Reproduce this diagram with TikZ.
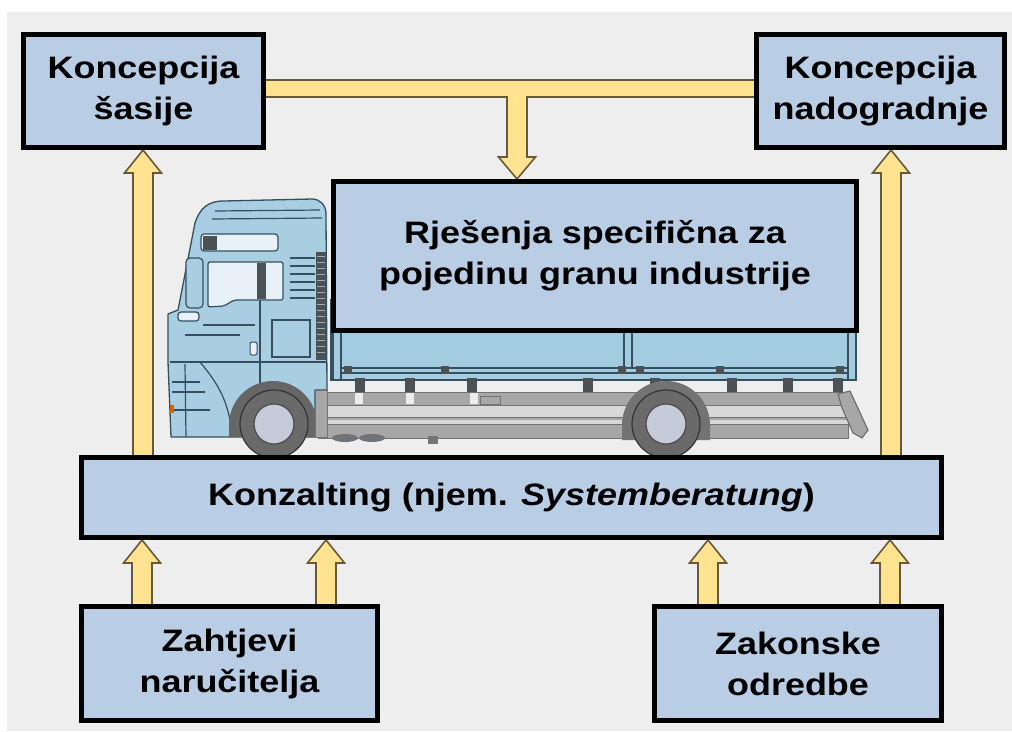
\documentclass[tikz,border=0pt]{standalone}
\usepackage{fontspec}
\setmainfont{Liberation Sans}[FakeStretch=1.16]
\usetikzlibrary{calc}
\pgfdeclarelayer{bg}
\pgfsetlayers{bg,main}
\definecolor{boxfill}{HTML}{B9CDE5}
\definecolor{arrfill}{HTML}{FFE390}
\definecolor{arrline}{HTML}{66593A}
\definecolor{bggray}{HTML}{EEEEEE}
\definecolor{cabfill}{HTML}{A9CDE1}
\definecolor{bodyfill}{HTML}{A4CCE0}
\definecolor{cabline}{HTML}{34505F}
\definecolor{cabdark}{HTML}{4C5156}
\definecolor{chassisc}{HTML}{A7A7A7}
\definecolor{chassislight}{HTML}{D8D8D8}
\definecolor{tyre}{HTML}{6A6A6A}
\definecolor{hub}{HTML}{C6CBD9}
\definecolor{winfill}{HTML}{E8F1F7}
\begin{document}
\begin{tikzpicture}[x=1pt,y=-1pt,
  box/.style={draw=black,line width=5pt,fill=boxfill,align=center,inner sep=0pt,
    font=\fontsize{31}{41}\selectfont\bfseries},
  arrowst/.style={fill=arrfill,draw=arrline,line width=1.6pt,line join=miter},
  fatup/.style={to path={let \p1=(\tikztostart),\p2=(\tikztotarget) in
     (\x1-10pt,\y1) -- (\x1-10pt,\y2-23pt) -- (\x1-18.5pt,\y2-23pt) -- (\x1,\y2)
     -- (\x1+18.5pt,\y2-23pt) -- (\x1+10pt,\y2-23pt) -- (\x1+10pt,\y1) -- cycle}},
  tline/.style={draw=cabline,line width=1.2pt},
  tfill/.style={fill=cabfill,draw=cabline,line width=1.3pt,line join=round},
]
\useasboundingbox (0,0) rectangle (1012,731);

% boxes
\node[box,minimum width=240,minimum height=113] (b1) at (143.5,91) {Koncepcija\\šasije};
\node[box,minimum width=248,minimum height=113] (b2) at (880.5,91) {Koncepcija\\nadogradnje};
\node[box,minimum width=523,minimum height=149] (rj) at (595,256) {Rješenja specifična za\\pojedinu granu industrije};
\node[box,minimum width=860,minimum height=80] (konz) at (511.5,497.5) {Konzalting (njem. {\itshape Systemberatung})};
\node[box,minimum width=296,minimum height=114] (zah) at (229.5,663.5) {Zahtjevi\\naručitelja};
\node[box,minimum width=287,minimum height=114] (zak) at (798,663.5) {Zakonske\\odredbe};

\begin{pgfonlayer}{bg}
\fill[white] (0,0) rectangle (1012,731);
\fill[bggray] (7,12) rectangle (1012,731);

% ---------- truck ----------
% cargo body
\filldraw[fill=bodyfill,draw=cabline,line width=1.2pt] (331,300) rectangle (856,380);
\draw[tline] (331,368) -- (856,368);
\draw[tline] (331,373) -- (856,373);
\filldraw[fill=bodyfill,draw=cabline,line width=1.2pt] (333,300) rectangle (341,380);
\filldraw[fill=bodyfill,draw=cabline,line width=1.2pt] (848,300) rectangle (856,380);
\draw[tline] (624,300) -- (624,368);
\draw[tline] (632,300) -- (632,368);
\foreach \bx in {360,410,472,588,655,732,788,838}
  \fill[cabdark] (\bx-5,378) rectangle (\bx+5,392);
\foreach \bx in {348,445,622,640,720,840}
  \fill[cabdark] (\bx-4,366) rectangle (\bx+4,374);
% chassis
\fill[chassisc] (318,392) rectangle (848,438);
\fill[chassislight] (318,405) rectangle (848,417);
\fill[chassislight] (318,420) rectangle (848,424);
\draw[black!55,line width=0.8pt] (318,392) rectangle (848,438);
\draw[black!55,line width=0.8pt] (318,405) -- (848,405) (318,417) -- (848,417) (318,424) -- (848,424);
\foreach \bx in {355,406,470}
  \fill[white!85!gray] (\bx,393) rectangle (\bx+8,404);
\draw[black!55,line width=0.8pt,fill=chassisc] (480,396) rectangle (500,404);
\fill[cabdark!80] (345,438) ellipse[x radius=13,y radius=4];
\fill[cabdark!80] (372,438) ellipse[x radius=13,y radius=4];
\fill[chassisc!70!black] (428,436) rectangle (438,444);
% rear underride
\filldraw[fill=chassisc,draw=black!60,line width=1pt] (838,394) -- (850,391) -- (868,430) -- (862,438) -- (853,433) -- (842,408) -- cycle;
% rear arch and wheel
\fill[black!55] (622,440) -- (622,425) arc[start angle=180,end angle=360,radius=44] -- (710,440) -- cycle;
\filldraw[fill=tyre,draw=black!80,line width=1.2pt] (666,424) circle[radius=34];
\filldraw[fill=hub,draw=black!70,line width=1.2pt] (666,424) circle[radius=20];

% cab
\path[tfill] (195,223) .. controls (200,208) and (208,201) .. (224,201) -- (312,199)
  .. controls (320,199) and (326,205) .. (326,214) -- (327,390) -- (315,390) -- (315,437)
  -- (171,437) -- (168,362) -- (168,314) -- (178,310) -- cycle;
\draw[tline] (215,211) -- (320,210);
\draw[tline] (212,219) -- (322,218);
\draw[tline] (170,362) -- (326,362);
% sleeper window
\filldraw[fill=winfill,draw=cabline,line width=1.2pt,rounded corners=3pt] (201,234) rectangle (278,251);
\fill[cabdark] (202.5,235.5) rectangle (217,249.5);
% side window
\filldraw[fill=winfill,draw=cabline,line width=1.2pt,rounded corners=2pt] (208,262) -- (283,262) -- (283,300) -- (234,300) -- (224,306) -- (208,307) -- cycle;
\fill[cabdark] (257,263) rectangle (266,299);
% A pillar
\filldraw[fill=cabfill,draw=cabline,line width=1.2pt,rounded corners=4pt] (186,258) rectangle (203,308);
% mirror
\filldraw[fill=winfill,draw=cabline,line width=1.2pt,rounded corners=3pt] (178,312) rectangle (199,321);
% grille slats
\foreach \gy in {258,266,274,282,290,298}
  \draw[tline] (290,\gy) -- (315,\gy);
\fill[cabdark] (316,252) rectangle (326,360);
\foreach \gy in {256,262,...,356}
  \draw[cabfill!60!gray,line width=0.6pt] (317,\gy) -- (325,\gy);
% door lines
\draw[tline] (260,300) -- (260,390);
\draw[tline] (203,325) -- (255,325);
\draw[tline] (185,335) -- (240,335);
\draw[tline] (272,320) rectangle (310,357);
\filldraw[fill=winfill,draw=cabline,line width=1pt,rounded corners=2pt] (250,342) rectangle (257,355);
\draw[tline] (200,362) .. controls (215,380) and (225,395) .. (230,420);
\draw[tline] (185,364) -- (186,437);
\draw[tline] (172,382) -- (200,382) (172,392) -- (205,392) (172,410) -- (210,410);
\fill[orange!80!black] (170,405) rectangle (174,413);
% front arch and wheel
\fill[black!60] (229,437) -- (229,425) arc[start angle=180,end angle=360,radius=44] -- (317,437) -- cycle;
\fill[chassisc] (315,390) rectangle (327,437);
\draw[black!55,line width=0.8pt] (315,390) rectangle (327,437);
\filldraw[fill=tyre,draw=black!80,line width=1.2pt] (274,424) circle[radius=34];
\filldraw[fill=hub,draw=black!70,line width=1.2pt] (274,424) circle[radius=20];

% ---------- arrows ----------
\draw[arrowst] (b1.center |- 0,80) -- (b2.center |- 0,80) -- (b2.center |- 0,97)
  -- (527,97) -- (527,157) -- (535.5,157) -- (517,0 |- rj.north) -- (498.5,157)
  -- (507,157) -- (507,97) -- (b1.center |- 0,97) -- cycle;
\draw[arrowst] (143,0 |- konz.center) to[fatup] (143,0 |- b1.south);
\draw[arrowst] (891,0 |- konz.center) to[fatup] (891,0 |- b2.south);
\draw[arrowst] (142,0 |- zah.center) to[fatup] (142,0 |- konz.south);
\draw[arrowst] (326,0 |- zah.center) to[fatup] (326,0 |- konz.south);
\draw[arrowst] (708,0 |- zak.center) to[fatup] (708,0 |- konz.south);
\draw[arrowst] (890,0 |- zak.center) to[fatup] (890,0 |- konz.south);
\end{pgfonlayer}
\end{tikzpicture}
\end{document}
